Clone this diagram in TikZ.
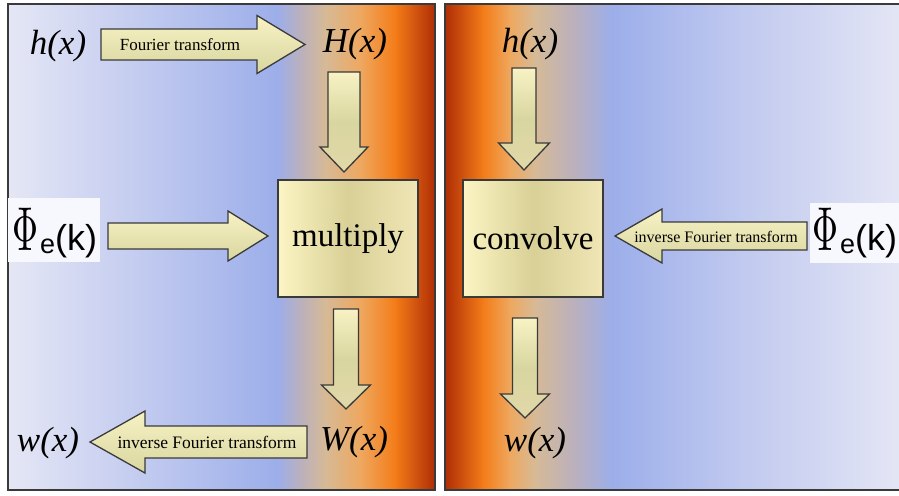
\documentclass[tikz,border=0pt]{standalone}
\usepackage{fontspec}
\setmainfont{Liberation Serif}
\newfontfamily\arialf{Liberation Sans}
\usetikzlibrary{calc}
\definecolor{bgL}{RGB}{229,231,245}
\definecolor{bgM}{RGB}{192,201,239}
\definecolor{bgBlue}{RGB}{156,174,234}
\definecolor{bgGrey}{RGB}{186,176,190}
\definecolor{bgTan}{RGB}{214,186,150}
\definecolor{bgPeach}{RGB}{238,168,96}
\definecolor{bgOrange}{RGB}{244,124,24}
\definecolor{bgDark}{RGB}{176,46,6}
\definecolor{arLight}{RGB}{248,242,196}
\definecolor{arMid}{RGB}{216,214,160}
\definecolor{arDark}{RGB}{226,216,168}
\definecolor{boxLight}{RGB}{252,245,196}
\definecolor{boxMid}{RGB}{216,208,150}
\definecolor{boxRight}{RGB}{240,230,182}
\definecolor{edge}{RGB}{58,58,58}
\definecolor{phiwhite}{RGB}{247,248,253}
\newcommand\blkarrow[6]{%
  \coordinate (hb) at ($(#3)!#6!(#2)$);
  \path[#1] ($(#2)!#4!90:(#3)$) -- ($(hb)!#4!90:(#3)$) -- ($(hb)!#5!90:(#3)$) -- (#3)
    -- ($(hb)!#5!-90:(#3)$) -- ($(hb)!#4!-90:(#3)$) -- ($(#2)!#4!-90:(#3)$) -- cycle;}
\newcommand\phitext{\scalebox{3.6}[6.2]{$\Phi$}\kern2pt\raisebox{-3pt}{\arialf\fontsize{27}{27}\selectfont e}{\arialf\fontsize{36}{36}\selectfont (k)}}
\begin{document}
\begin{tikzpicture}[x=1pt,y=-1pt,
  panel/.style={draw=edge,line width=1.4pt},
  varrow/.style={draw=edge,line width=1.3pt,top color=arLight,bottom color=arDark,middle color=arMid},
  harrow/.style={draw=edge,line width=1.3pt,top color=arLight,bottom color=arMid},
  opbox/.style={draw=edge,line width=1.6pt,rectangle,minimum width=140pt,minimum height=117pt,
    left color=boxLight,right color=boxRight,middle color=boxMid,inner sep=0pt,
    font=\fontsize{33}{33}\selectfont},
  fn/.style={font=\fontsize{35}{35}\selectfont\itshape,inner sep=0pt},
  lbl/.style={inner sep=0pt},
  phibox/.style={fill=phiwhite,draw=none,rectangle,inner sep=0pt,anchor=north west}]
\useasboundingbox (0,0) rectangle (899,495);
% left panel background
\shade[left color=bgL,right color=bgM] (8,4) rectangle (150.5,490);
\shade[left color=bgM,right color=bgBlue] (150,4) rectangle (277.5,490);
\shade[left color=bgBlue,right color=bgGrey] (277,4) rectangle (300.5,490);
\shade[left color=bgGrey,right color=bgTan] (300,4) rectangle (325.5,490);
\shade[left color=bgTan,right color=bgPeach] (325,4) rectangle (360.5,490);
\shade[left color=bgPeach,right color=bgOrange] (360,4) rectangle (395.5,490);
\shade[left color=bgOrange,right color=bgDark] (395,4) rectangle (435,490);
\draw[panel] (8,4) rectangle (435,490);
% right panel background
\shade[left color=bgDark,right color=bgOrange] (445,4) rectangle (483.5,490);
\shade[left color=bgOrange,right color=bgPeach] (483,4) rectangle (510.5,490);
\shade[left color=bgPeach,right color=bgTan] (510,4) rectangle (535.5,490);
\shade[left color=bgTan,right color=bgGrey] (535,4) rectangle (575.5,490);
\shade[left color=bgGrey,right color=bgBlue] (575,4) rectangle (612.5,490);
\shade[left color=bgBlue,right color=bgM] (612,4) rectangle (740.5,490);
\shade[left color=bgM,right color=bgL] (740,4) rectangle (906,490);
\draw[panel] (445,4) rectangle (906,490);

% ---------- left panel ----------
\node[fn] (hL) at (58,46) {h(x)};
\node[fn] (HL) at (355,44) {H(x)};
\node[opbox] (mul) at (348,238.5) {multiply};
\node[fn] (WL) at (354,442) {W(x)};
\node[fn] (wL) at (48,443) {w(x)};
\node[phibox,minimum width=92pt,minimum height=64pt] (phiLbox) at (8,198) {};
\node[lbl,anchor=base west] (phiL) at (12,250) {\phitext};

\coordinate (a1t) at (101,44.5); \coordinate (a1h) at (305,44.5);
\blkarrow{harrow}{a1t}{a1h}{15.5pt}{29pt}{48pt}
\node[lbl,font=\fontsize{17}{17}\selectfont] (ft) at (180,45) {Fourier transform};

\coordinate (a2t) at (344,72); \coordinate (a2h) at (344,172);
\blkarrow{varrow}{a2t}{a2h}{16pt}{24pt}{25pt}

\coordinate (a3t) at (108,236); \coordinate (a3h) at (268,236);
\blkarrow{harrow}{a3t}{a3h}{13pt}{25pt}{40pt}

\coordinate (a4t) at (346,309); \coordinate (a4h) at (346,409);
\blkarrow{varrow}{a4t}{a4h}{12.5pt}{24.5pt}{24pt}

\coordinate (a5t) at (307,442); \coordinate (a5h) at (90,442);
\blkarrow{harrow}{a5t}{a5h}{16pt}{31pt}{55pt}
\node[lbl,font=\fontsize{17.5}{17.5}\selectfont] (ift1) at (207,442) {inverse Fourier transform};

% ---------- right panel ----------
\node[fn] (hR) at (530,44) {h(x)};
\node[opbox] (conv) at (533,238.5) {convolve};
\node[fn] (wR) at (535,443) {w(x)};
\node[phibox,minimum width=89pt,minimum height=60pt] (phiRbox) at (810,203) {};
\node[lbl,anchor=base west] (phiR) at (812,250) {\phitext};

\coordinate (b1t) at (524,68); \coordinate (b1h) at (524,170);
\blkarrow{varrow}{b1t}{b1h}{12pt}{25.5pt}{27pt}

\coordinate (b2t) at (807,236); \coordinate (b2h) at (615,236);
\blkarrow{harrow}{b2t}{b2h}{14pt}{27pt}{47pt}
\node[lbl,font=\fontsize{16}{16}\selectfont] (ift2) at (716,237) {inverse Fourier transform};

\coordinate (b3t) at (525,318); \coordinate (b3h) at (525,418);
\blkarrow{varrow}{b3t}{b3h}{12.5pt}{24.5pt}{24pt}
\end{tikzpicture}
\end{document}
